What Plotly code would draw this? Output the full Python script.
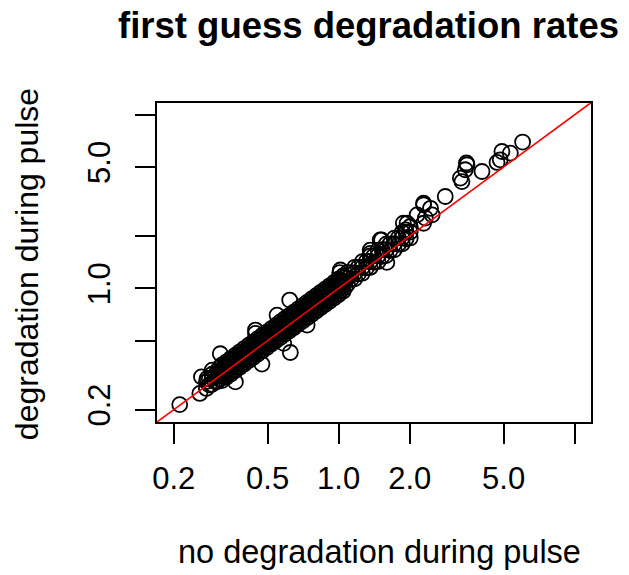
import plotly.graph_objects as go

# ---- data (rates, log-log) ----
# scattered / outlying genes
out_x = [0.212, 0.258, 0.262, 0.277, 0.291, 0.315, 0.365, 0.444, 0.444, 0.473,
         0.548, 0.585, 0.620, 0.624, 0.735, 1.01, 1.017, 1.36, 1.36, 1.50,
         1.52, 1.60, 1.88, 1.92, 1.95, 2.15, 2.29, 2.29, 2.29, 2.33,
         2.45, 2.49, 2.83, 3.28, 3.33, 3.44, 3.48, 3.50, 4.05, 4.69,
         4.84, 4.92, 5.34, 6.02]
out_y = [0.214, 0.248, 0.309, 0.303, 0.338, 0.420, 0.289, 0.550, 0.575, 0.366,
         0.701, 0.482, 0.856, 0.427, 0.614, 1.23, 1.275, 1.59, 1.66, 1.90,
         1.90, 1.41, 2.37, 2.17, 2.37, 2.65, 2.37, 3.03, 3.09, 2.54,
         2.89, 2.65, 3.38, 4.31, 4.12, 4.82, 5.27, 5.15, 4.71, 5.31,
         5.50, 6.14, 6.01, 6.96]

# dense band of genes along the diagonal
core_x = [
    0.275, 0.275,
    0.283, 0.283,
    0.291, 0.291, 0.291,
    0.299, 0.299,
    0.306, 0.306, 0.306,
    0.313, 0.313, 0.313,
    0.320, 0.320, 0.320, 0.320,
    0.327, 0.327, 0.327,
    0.334, 0.334, 0.334, 0.334,
    0.342, 0.342, 0.342,
    0.349, 0.349, 0.349, 0.349,
    0.357, 0.357, 0.357,
    0.365, 0.365, 0.365, 0.365,
    0.373, 0.373, 0.373,
    0.381, 0.381, 0.381, 0.381,
    0.390, 0.390, 0.390,
    0.398, 0.398, 0.398, 0.398,
    0.407, 0.407, 0.407,
    0.416, 0.416, 0.416, 0.416,
    0.425, 0.425, 0.425,
    0.435, 0.435, 0.435, 0.435,
    0.444, 0.444, 0.444,
    0.454, 0.454, 0.454, 0.454,
    0.464, 0.464, 0.464,
    0.475, 0.475, 0.475, 0.475,
    0.485, 0.485, 0.485,
    0.496, 0.496, 0.496, 0.496,
    0.507, 0.507, 0.507,
    0.518, 0.518, 0.518, 0.518,
    0.530, 0.530, 0.530,
    0.541, 0.541, 0.541, 0.541,
    0.553, 0.553, 0.553,
    0.566, 0.566, 0.566, 0.566,
    0.578, 0.578, 0.578,
    0.591, 0.591, 0.591, 0.591,
    0.604, 0.604, 0.604,
    0.617, 0.617, 0.617, 0.617,
    0.631, 0.631, 0.631,
    0.645, 0.645, 0.645, 0.645,
    0.659, 0.659, 0.659,
    0.674, 0.674, 0.674, 0.674,
    0.689, 0.689, 0.689,
    0.704, 0.704, 0.704, 0.704,
    0.720, 0.720, 0.720,
    0.735, 0.735, 0.735, 0.735,
    0.752, 0.752, 0.752,
    0.768, 0.768, 0.768, 0.768,
    0.785, 0.785, 0.785,
    0.803, 0.803, 0.803, 0.803,
    0.820, 0.820, 0.820,
    0.838, 0.838, 0.838, 0.838,
    0.857, 0.857, 0.857,
    0.876, 0.876, 0.876, 0.876,
    0.895, 0.895, 0.895,
    0.915, 0.915, 0.915, 0.915,
    0.935, 0.935, 0.935,
    0.956, 0.956, 0.956, 0.956,
    0.977, 0.977, 0.977,
    0.998, 0.998, 0.998, 0.998,
    1.020, 1.020, 1.020,
    1.043, 1.043, 1.043, 1.043,
    1.066, 1.066, 1.066,
    1.09, 1.09, 1.09,
    1.13, 1.13,
    1.17, 1.17, 1.17,
    1.21, 1.21,
    1.26, 1.26, 1.26,
    1.31, 1.31,
    1.36, 1.36, 1.36,
    1.41, 1.41,
    1.47, 1.47, 1.47,
    1.53, 1.53,
    1.59, 1.59, 1.59,
    1.65, 1.65,
    1.72, 1.72, 1.72,
    1.79, 1.79,
    1.86, 1.86, 1.86,
    1.93, 1.93,
    2.01, 2.01, 2.01,
]
core_y = [
    0.265, 0.290,
    0.278, 0.300,
    0.280, 0.305, 0.320,
    0.290, 0.315,
    0.290, 0.310, 0.335,
    0.300, 0.325, 0.350,
    0.294, 0.317, 0.339, 0.362,
    0.311, 0.334, 0.356,
    0.307, 0.331, 0.354, 0.377,
    0.325, 0.349, 0.373,
    0.321, 0.346, 0.370, 0.394,
    0.339, 0.364, 0.389,
    0.336, 0.361, 0.387, 0.412,
    0.354, 0.380, 0.407,
    0.351, 0.377, 0.404, 0.431,
    0.371, 0.398, 0.425,
    0.366, 0.394, 0.422, 0.450,
    0.387, 0.415, 0.444,
    0.383, 0.412, 0.441, 0.470,
    0.404, 0.434, 0.463,
    0.400, 0.431, 0.461, 0.492,
    0.422, 0.453, 0.484,
    0.418, 0.449, 0.481, 0.513,
    0.441, 0.473, 0.506,
    0.437, 0.470, 0.504, 0.537,
    0.461, 0.495, 0.529,
    0.456, 0.491, 0.526, 0.560,
    0.482, 0.517, 0.553,
    0.477, 0.513, 0.549, 0.585,
    0.504, 0.541, 0.578,
    0.498, 0.536, 0.573, 0.611,
    0.525, 0.564, 0.603,
    0.521, 0.560, 0.600, 0.640,
    0.549, 0.590, 0.630,
    0.544, 0.585, 0.626, 0.668,
    0.574, 0.616, 0.658,
    0.568, 0.611, 0.654, 0.697,
    0.599, 0.644, 0.688,
    0.593, 0.639, 0.684, 0.729,
    0.626, 0.672, 0.718,
    0.620, 0.667, 0.714, 0.762,
    0.655, 0.703, 0.751,
    0.648, 0.697, 0.746, 0.796,
    0.684, 0.734, 0.785,
    0.676, 0.728, 0.779, 0.831,
    0.714, 0.767, 0.820,
    0.707, 0.760, 0.814, 0.868,
    0.746, 0.801, 0.856,
    0.739, 0.795, 0.851, 0.907,
    0.779, 0.836, 0.894,
    0.771, 0.830, 0.888, 0.947,
    0.814, 0.874, 0.934,
    0.806, 0.867, 0.929, 0.990,
    0.850, 0.913, 0.976,
    0.842, 0.906, 0.970, 1.034,
    0.888, 0.954, 1.019,
    0.880, 0.946, 1.013, 1.080,
    0.928, 0.997, 1.065,
    0.918, 0.988, 1.058, 1.128,
    0.969, 1.040, 1.112,
    0.960, 1.033, 1.106, 1.179,
    1.013, 1.087, 1.162,
    1.057, 1.145, 1.232,
    1.130, 1.232,
    1.135, 1.229, 1.322,
    1.210, 1.319,
    1.222, 1.323, 1.424,
    1.310, 1.428,
    1.319, 1.428, 1.537,
    1.410, 1.537,
    1.426, 1.544, 1.661,
    1.530, 1.668,
    1.542, 1.670, 1.797,
    1.650, 1.799,
    1.668, 1.806, 1.944,
    1.790, 1.951,
    1.804, 1.953, 2.102,
    1.930, 2.104,
    1.950, 2.111, 2.271,
]

tick_vals = [0.2, 0.5, 1.0, 2.0, 5.0, 10.0]
x_tick_text = ["0.2", "0.5", "1.0", "2.0", "5.0", ""]
y_tick_text = ["0.2", "", "1.0", "", "5.0", ""]
identity_line = [0.1, 20.0]

title_text = "first guess degradation rates"
x_title = "no degradation during pulse"
y_title = "degradation during pulse"

FONT = "Liberation Sans, Arial, Helvetica, sans-serif"

fig = go.Figure()
marker = dict(symbol="circle-open", size=15, color="black", line=dict(width=1.8, color="black"))
fig.add_trace(go.Scatter(x=core_x + out_x, y=core_y + out_y, mode="markers",
                         marker=marker, showlegend=False, hoverinfo="x+y"))
fig.add_trace(go.Scatter(x=identity_line, y=identity_line, mode="lines",
                         line=dict(color="red", width=1.6), showlegend=False,
                         hoverinfo="skip"))

axis_common = dict(
    type="log", showgrid=False, zeroline=False,
    showline=True, mirror=True, linecolor="black", linewidth=1.5,
    ticks="outside", ticklen=20, tickwidth=1.5, tickcolor="black",
    tickvals=tick_vals,
    tickfont=dict(family=FONT, size=31, color="black"),
)

fig.update_layout(
    width=629, height=575,
    margin=dict(l=157, r=38, t=103, b=153),
    paper_bgcolor="white", plot_bgcolor="white",
    xaxis=dict(axis_common, range=[-0.770, 1.0695], ticktext=x_tick_text,
               ticklabelstandoff=8),
    yaxis=dict(axis_common, range=[-0.770, 1.0675], ticktext=y_tick_text,
               tickangle=-90, ticklabelstandoff=13),
    annotations=[
        dict(text="<b>" + title_text + "</b>", xref="paper", yref="paper",
             x=0.487, y=1.244, xanchor="center", yanchor="middle", showarrow=False,
             font=dict(family=FONT, size=36.5, color="black")),
        dict(text=x_title, xref="paper", yref="paper",
             x=0.513, y=-0.4075, xanchor="center", yanchor="middle", showarrow=False,
             font=dict(family=FONT, size=32.5, color="black")),
        dict(text=y_title, xref="paper", yref="paper", textangle=-90,
             x=-0.301, y=0.496, xanchor="center", yanchor="middle", showarrow=False,
             font=dict(family=FONT, size=32, color="black")),
    ],
)

# remove the page's default body margin so the 629x575 figure fills the window
fig.write_html("out.html",
               config={"displayModeBar": False},
               post_script="document.body.style.margin='0';document.body.style.overflow='hidden';")
